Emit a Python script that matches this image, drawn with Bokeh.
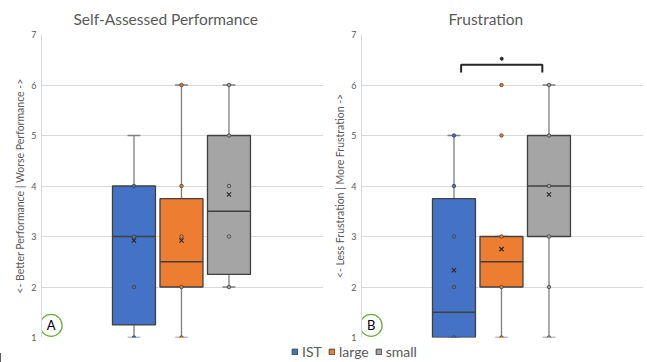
from bokeh.plotting import figure
from bokeh.models import ColumnDataSource, Legend, LegendItem, FixedTicker, Range1d
from bokeh.layouts import column, row
from bokeh.embed import file_html
from bokeh.resources import INLINE
from bokeh.core.properties import value

# ---------------- data ----------------
groups = ["IST", "large", "small"]
group_pos = [1, 2, 3]
colors = ["#4472C4", "#ED7D31", "#A5A5A5"]

perf_lo = [1, 1, 2]
perf_q1 = [1.25, 2.0, 2.25]
perf_med = [3.0, 2.5, 3.5]
perf_q3 = [4.0, 3.75, 5.0]
perf_hi = [5, 6, 6]
perf_mean = [2.92, 2.92, 3.83]
perf_pts_ist = [1, 2, 3, 4]
perf_pts_large = [1, 2, 3, 4, 6]
perf_pts_small = [2, 3, 4, 5, 6]

frus_lo = [1, 1, 1]
frus_q1 = [1.0, 2.0, 3.0]
frus_med = [1.5, 2.5, 4.0]
frus_q3 = [3.75, 3.0, 5.0]
frus_hi = [5, 3, 6]
frus_mean = [2.33, 2.75, 3.83]
frus_pts_ist = [1, 2, 3, 4, 5]
frus_pts_large = [1, 2, 3, 5, 6]
frus_pts_small = [1, 2, 3, 4, 5, 6]

sig_pair = [1.15, 2.86]
sig_level = 6.4
sig_drop = 6.25
sig_mark_y = 6.52

y_ticks = [1, 2, 3, 4, 5, 6, 7]

# ---------------- style ----------------
FONT = "Lato"
TXT = "#595959"
GRID = "#D9D9D9"
BOX_W = 0.905
CAP_W = 0.27
X_RANGE = (-0.947, 4.99)
BADGE_POS = (-0.745, 1.24)


def make_panel(title, ylabel, lo, q1, med, q3, hi, mean, pts, badge,
               border_left, border_right, title_offset, sig=False):
    p = figure(frame_width=282, frame_height=303, output_backend="svg",
               toolbar_location=None, x_axis_location=None,
               x_range=Range1d(*X_RANGE), y_range=Range1d(1, 7),
               min_border_left=border_left, min_border_right=border_right,
               min_border_top=34, min_border_bottom=7)
    p.outline_line_color = None
    p.xgrid.visible = False
    p.ygrid.grid_line_color = GRID
    p.ygrid.ticker = FixedTicker(ticks=y_ticks)

    p.title.text = title
    p.title.align = "left"
    p.title.offset = title_offset
    p.title.text_font = FONT
    p.title.text_font_size = "15.5px"
    p.title.text_font_style = "normal"
    p.title.text_color = TXT
    p.title.standoff = 14

    ax = p.yaxis[0]
    ax.ticker = FixedTicker(ticks=y_ticks)
    ax.axis_label = ylabel
    ax.axis_label_text_font = FONT
    ax.axis_label_text_font_size = "10.5px"
    ax.axis_label_text_font_style = "normal"
    ax.axis_label_text_color = TXT
    ax.axis_label_standoff = 2
    ax.major_label_text_font = FONT
    ax.major_label_text_font_size = "9px"
    ax.major_label_text_color = TXT
    ax.major_label_standoff = 5
    ax.major_tick_line_color = None
    ax.major_tick_out = 0
    ax.major_tick_in = 0
    ax.minor_tick_line_color = None
    ax.axis_line_color = GRID

    src = ColumnDataSource(dict(
        x=group_pos, lo=lo, q1=q1, med=med, q3=q3, hi=hi, mean=mean, color=colors,
        cl=[x - CAP_W / 2 for x in group_pos], cr=[x + CAP_W / 2 for x in group_pos],
        bl=[x - BOX_W / 2 for x in group_pos], br=[x + BOX_W / 2 for x in group_pos],
    ))
    wcol = "#7F7F7F"
    p.segment(x0="x", y0="lo", x1="x", y1="q1", source=src, line_color=wcol, line_width=1.3)
    p.segment(x0="x", y0="q3", x1="x", y1="hi", source=src, line_color=wcol, line_width=1.3)
    p.segment(x0="cl", y0="lo", x1="cr", y1="lo", source=src, line_color=wcol, line_width=1.3)
    p.segment(x0="cl", y0="hi", x1="cr", y1="hi", source=src, line_color=wcol, line_width=1.3)
    p.vbar(x="x", bottom="q1", top="q3", width=BOX_W, source=src,
           fill_color="color", line_color="#404040", line_width=1.3)
    p.segment(x0="bl", y0="med", x1="br", y1="med", source=src, line_color="#404040", line_width=1.5)

    px, py, pc = [], [], []
    for x, c, vals in zip(group_pos, colors, pts):
        for v in vals:
            px.append(x)
            py.append(v)
            pc.append(c)
    p.scatter(px, py, marker="circle", size=3.5, fill_color=pc, line_color="#404040", line_width=0.8)
    p.scatter(x="x", y="mean", source=src, marker="x", size=6, line_color="#262626", line_width=1.1)

    if sig:
        p.line([sig_pair[0], sig_pair[0], sig_pair[1], sig_pair[1]],
               [sig_drop, sig_level, sig_level, sig_drop], line_color="#262626", line_width=2)
        p.scatter([sum(sig_pair) / 2], [sig_mark_y], marker="circle", size=3,
                  fill_color="#262626", line_color="#262626")

    p.scatter([BADGE_POS[0]], [BADGE_POS[1]], marker="circle", size=22,
              fill_color="white", line_color="#70AD47", line_width=1.3)
    p.text([BADGE_POS[0]], [BADGE_POS[1]], text=[badge], text_align="center",
           text_baseline="middle", text_font=value(FONT), text_font_size="13px",
           text_color="#000000")
    return p


p1 = make_panel("Self-Assessed Performance",
                "<- Better Performance | Worse Performance ->",
                perf_lo, perf_q1, perf_med, perf_q3, perf_hi, perf_mean,
                [perf_pts_ist, perf_pts_large, perf_pts_small], "A",
                41, 5, 32)
p2 = make_panel("Frustration",
                "<- Less Frustration | More Frustration ->",
                frus_lo, frus_q1, frus_med, frus_q3, frus_hi, frus_mean,
                [frus_pts_ist, frus_pts_large, frus_pts_small], "B",
                33, 4, 87, sig=True)

pleg = figure(width=647, height=18, output_backend="svg", toolbar_location=None,
              x_range=Range1d(0, 1), y_range=Range1d(0, 1), min_border=0,
              x_axis_location=None, y_axis_location=None)
pleg.outline_line_color = None
pleg.grid.visible = False
items = []
for g, c in zip(groups, colors):
    r = pleg.vbar(x=[-10], top=[0.5], width=0.1, fill_color=c, line_color="#404040")
    items.append(LegendItem(label=g, renderers=[r]))
leg = Legend(items=items, orientation="horizontal", location=(291, 2),
             glyph_width=7, glyph_height=7, label_height=14,
             label_text_font=FONT, label_text_font_size="14px", label_text_color=TXT,
             spacing=6, label_standoff=4, padding=0, margin=0,
             border_line_color=None, background_fill_alpha=0)
pleg.add_layout(leg)

layout = column(row(p1, p2, spacing=0), pleg, spacing=0)

open("out.html", "w").write(file_html(layout, INLINE))
